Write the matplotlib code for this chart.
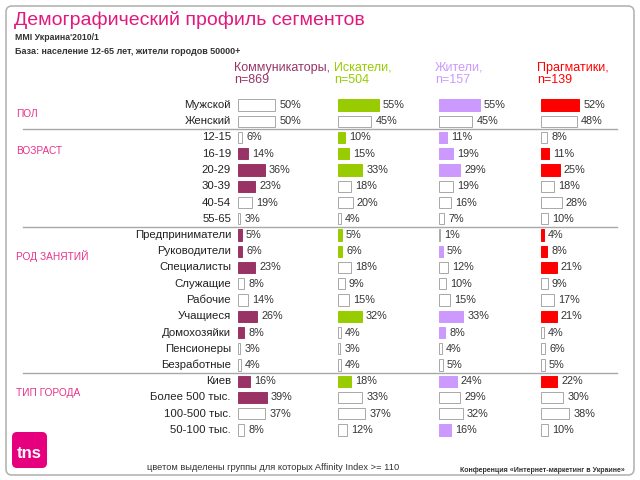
import matplotlib.pyplot as plt
from matplotlib.patches import FancyBboxPatch

plt.rcParams['font.family'] = ['Liberation Sans', 'DejaVu Sans']

# ---- data ----
rows = ["Мужской", "Женский",
        "12-15", "16-19", "20-29", "30-39", "40-54", "55-65",
        "Предприниматели", "Руководители", "Специалисты", "Служащие", "Рабочие",
        "Учащиеся", "Домохозяйки", "Пенсионеры", "Безработные",
        "Киев", "Более 500 тыс.", "100-500 тыс.", "50-100 тыс."]

sections = ["ПОЛ", "ВОЗРАСТ", "РОД ЗАНЯТИЙ", "ТИП ГОРОДА"]
section_rows = [0.55, 2.8, 9.3, 17.7]   # row index where the section label sits
section_breaks = [1.5, 7.5, 16.5]

segments = ["Коммуникаторы,\nn=869", "Искатели,\nn=504", "Жители,\nn=157", "Прагматики,\nn=139"]
seg_colors = ["#993366", "#99CC00", "#CC99FF", "#FF0000"]

communicators = [50, 50, 6, 14, 36, 23, 19, 3, 5, 6, 23, 8, 14, 26, 8, 3, 4, 16, 39, 37, 8]
seekers       = [55, 45, 10, 15, 33, 18, 20, 4, 5, 6, 18, 9, 15, 32, 4, 3, 4, 18, 33, 37, 12]
residents     = [55, 45, 11, 19, 29, 19, 16, 7, 1, 5, 12, 10, 15, 33, 8, 4, 5, 24, 29, 32, 16]
pragmatics    = [52, 48, 8, 11, 25, 18, 28, 10, 4, 8, 21, 9, 17, 21, 4, 6, 5, 22, 30, 38, 10]

# 1 = affinity index >= 110 (coloured bar)
hl_communicators = [0, 0, 0, 1, 1, 1, 0, 0, 1, 1, 1, 0, 0, 1, 1, 0, 0, 1, 1, 0, 0]
hl_seekers       = [1, 0, 1, 1, 1, 0, 0, 0, 1, 1, 0, 0, 0, 1, 0, 0, 0, 1, 0, 0, 0]
hl_residents     = [1, 0, 1, 1, 1, 0, 0, 0, 0, 1, 0, 0, 0, 1, 1, 0, 0, 1, 0, 0, 1]
hl_pragmatics    = [1, 0, 0, 1, 1, 0, 0, 0, 1, 1, 1, 0, 0, 1, 0, 0, 0, 1, 0, 0, 0]

series = [communicators, seekers, residents, pragmatics]
highlights = [hl_communicators, hl_seekers, hl_residents, hl_pragmatics]

# ---- layout (pixels on a 640x480 canvas) ----
W, H = 640, 480
ROW0, PITCH = 105, 16.25
col_x = [238, 338, 439, 541]
PX_PER_PCT = 0.74
col_w = 90

fig = plt.figure(figsize=(6.4, 4.8), dpi=100)
bg = fig.add_axes([0, 0, 1, 1])
bg.set_xlim(0, W)
bg.set_ylim(H, 0)
bg.axis('off')

# frame
bg.add_patch(FancyBboxPatch((6, 6), 628, 469, boxstyle="round,pad=0,rounding_size=6",
                            fill=False, edgecolor="#B5B5B5", linewidth=1.2))

bg.text(14, 20, "Демографический профиль сегментов", color="#E2187F",
        fontsize=14, va="center", ha="left")
bg.text(15, 38, "MMI Украина'2010/1", fontsize=6.3, weight="bold", color="#333333", va="center")
bg.text(15, 52, "База: население 12-65 лет, жители городов 50000+", fontsize=6.5,
        weight="bold", color="#333333", va="center")

for x, name, c in zip(col_x, segments, seg_colors):
    bg.text(x - 4, 74, name, color=c, fontsize=9, va="center", ha="left", linespacing=1.1)

def row_y(i):
    return ROW0 + i * PITCH

for i, lab in enumerate(rows):
    bg.text(231, row_y(i), lab, ha="right", va="center", fontsize=8.2, color="#222222")

for name, r in zip(sections, section_rows):
    bg.text(16, row_y(r), name, color="#E8338A", fontsize=7.3, va="center", ha="left")

for b in section_breaks:
    bg.plot([23, 617], [row_y(b), row_y(b)], color="#A8A8A8", linewidth=1)

# tns logo
bg.add_patch(FancyBboxPatch((12, 432), 35, 36, boxstyle="round,pad=0,rounding_size=5",
                            facecolor="#E6007E", edgecolor="none"))
bg.text(29, 453, "tns", color="white", fontsize=12, weight="bold", ha="center", va="center")

bg.text(147, 468, "цветом выделены группы для которых Affinity Index >= 110",
        fontsize=6.7, color="#333333", va="center")
bg.text(460, 470, "Конференция «Интернет-маркетинг в Украине»",
        fontsize=5, weight="bold", color="#333333", va="center")

# ---- bar columns ----
n = len(rows)
top_px = ROW0 - PITCH / 2
h_px = n * PITCH
for x, vals, hl, c in zip(col_x, series, highlights, seg_colors):
    ax = fig.add_axes([x / W, 1 - (top_px + h_px) / H, col_w / W, h_px / H])
    ax.set_xlim(0, col_w / PX_PER_PCT)
    ax.set_ylim(n - 0.5, -0.5)
    ax.axis('off')
    fc = [c if h else "white" for h in hl]
    ec = [c if h else "#A8A8A8" for h in hl]
    ax.barh(range(n), vals, height=0.68, color=fc, edgecolor=ec, linewidth=0.7)
    for i, v in enumerate(vals):
        ax.annotate(f"{v}%", (v, i), xytext=(3, 0), textcoords="offset points",
                    va="center", ha="left", fontsize=7.8, color="#333333")

fig.savefig("out.png", dpi=100)
